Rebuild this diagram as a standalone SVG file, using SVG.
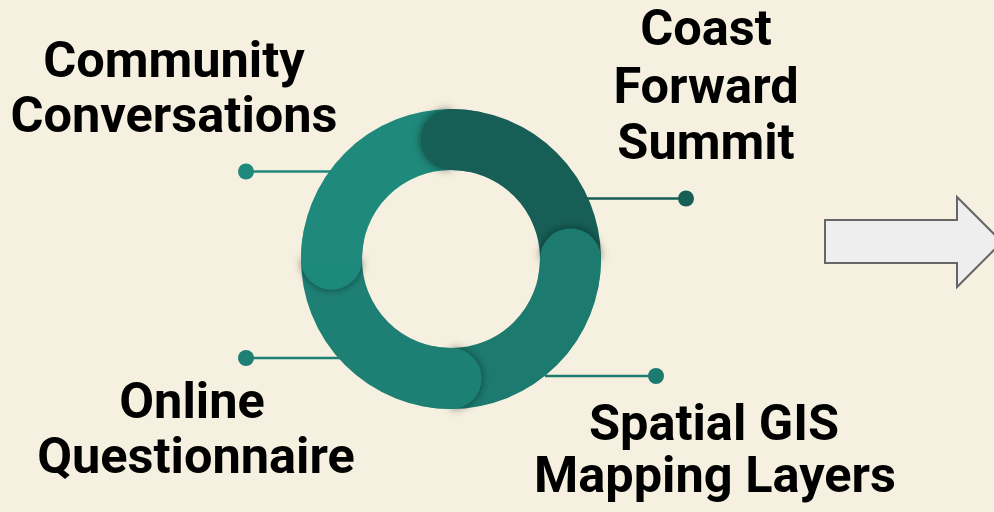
<svg xmlns="http://www.w3.org/2000/svg" width="994" height="512" viewBox="0 0 994 512">
<style>
.lbl{font-family:Roboto,"Liberation Sans",Arial,sans-serif;font-weight:700;font-size:50.5px;fill:#000;text-anchor:middle}
.seg{fill:none;stroke-width:61}
.conn{stroke-width:2.5;fill:none}
</style>
<defs>
<filter id="sh" x="-50%" y="-50%" width="200%" height="200%">
<feDropShadow dx="0" dy="0" stdDeviation="4" flood-color="#000" flood-opacity="0.5"/>
</filter>
</defs>
<rect width="994" height="512" fill="#F6F0E0"/>
<g id="connectors">
<line class="conn" x1="246" y1="171.5" x2="335" y2="171.5" stroke="#1F897B"/>
<circle cx="246" cy="171.5" r="8" fill="#1F897B"/>
<line class="conn" x1="246" y1="358" x2="350" y2="358" stroke="#1E8074"/>
<circle cx="246" cy="358" r="8" fill="#1E8074"/>
<line class="conn" x1="575" y1="198.5" x2="686" y2="198.5" stroke="#165E56"/>
<circle cx="686" cy="198.5" r="8" fill="#165E56"/>
<line class="conn" x1="545" y1="376" x2="656" y2="376" stroke="#1C7A6E"/>
<circle cx="656" cy="376" r="8" fill="#1C7A6E"/>
</g>
<g id="ring">
<path class="seg" stroke="#1F897B" d="M331.5 259 A119.5 119.5 0 0 1 451 139.5"/>
<path class="seg" stroke="#165E56" d="M451 139.5 A119.5 119.5 0 0 1 570.5 259"/>
<path class="seg" stroke="#1C7A6E" d="M570.5 259 A119.5 119.5 0 0 1 451 378.5"/>
<path class="seg" stroke="#1E8074" d="M451 378.5 A119.5 119.5 0 0 1 331.5 259"/>
<g filter="url(#sh)">
<path fill="#165E56" d="M451 109 A30.5 30.5 0 0 0 451 170 Z"/>
<path fill="#1C7A6E" d="M540 259 A30.5 30.5 0 0 1 601 259 Z"/>
<path fill="#1E8074" d="M451 348 A30.5 30.5 0 0 1 451 409 Z"/>
<path fill="#1F897B" d="M362 259 A30.5 30.5 0 0 1 301 259 Z"/>
</g>
<path class="seg" stroke="#165E56" d="M451 139.5 A119.5 119.5 0 0 1 475.85 142.1"/>
<path class="seg" stroke="#1C7A6E" d="M570.5 259 A119.5 119.5 0 0 1 567.9 283.85"/>
<path class="seg" stroke="#1E8074" d="M451 378.5 A119.5 119.5 0 0 1 426.15 375.9"/>
<path class="seg" stroke="#1F897B" d="M331.5 259 A119.5 119.5 0 0 1 334.1 234.15"/>
</g>
<g id="community">
<text class="lbl" x="174" y="77">Community</text>
<text class="lbl" x="174" y="132">Conversations</text>
</g>
<g id="coast">
<text class="lbl" x="706" y="45">Coast</text>
<text class="lbl" x="706" y="103">Forward</text>
<text class="lbl" x="706" y="159">Summit</text>
</g>
<g id="online">
<text class="lbl" x="192" y="418">Online</text>
<text class="lbl" x="196" y="473">Questionnaire</text>
</g>
<g id="spatial">
<text class="lbl" x="714" y="440">Spatial GIS</text>
<text class="lbl" x="715" y="492">Mapping Layers</text>
</g>
<g id="arrow">
<polygon points="825,220 957,220 957,197 1002,242 957,287 957,263 825,263" fill="#EEEEEE" stroke="#666666" stroke-width="2"/>
</g>
</svg>
